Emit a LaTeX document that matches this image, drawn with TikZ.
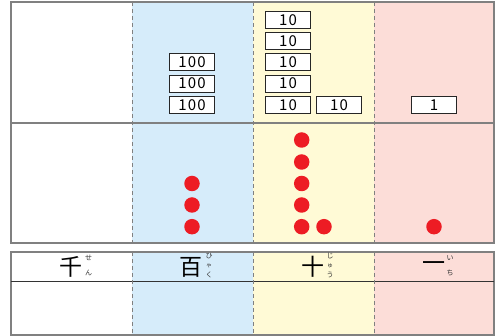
\documentclass[tikz,border=0pt]{standalone}
\usepackage{fontspec}
\newfontfamily\jp{Noto Sans CJK JP}
\newfontfamily\numfont[LetterSpace=8]{Noto Sans CJK JP}
\definecolor{cblue}{RGB}{214,236,250}
\definecolor{cyellow}{RGB}{255,250,214}
\definecolor{cpink}{RGB}{252,221,216}
\definecolor{cred}{RGB}{237,28,36}
\definecolor{cgray}{RGB}{128,128,128}
\begin{document}
\begin{tikzpicture}[x=1pt,y=-1pt,
  numbox/.style={draw=black!85,line width=0.9pt,fill=white,minimum width=45pt,minimum height=17pt,inner sep=0pt,font=\numfont\fontsize{15}{15}\selectfont},
  dot/.style={circle,fill=cred,minimum size=15.5pt,inner sep=0pt},
  frame/.style={draw=cgray,line width=1.1pt},
  divider/.style={draw=cgray,line width=1pt,dash pattern=on 4pt off 3pt},
  kanji/.style={font=\jp\fontsize{23}{23}\selectfont,inner sep=0pt},
  ruby/.style={font=\jp\fontsize{7}{7}\selectfont,inner sep=0pt,text=black!80},
  smallruby/.style={font=\jp\fontsize{6}{6}\selectfont,inner sep=0pt,text=black!80}]
\useasboundingbox (0,0) rectangle (496,336);
% fills
\fill[cblue] (132,2) rectangle (253,243);
\fill[cyellow] (253,2) rectangle (374,243);
\fill[cpink] (374,2) rectangle (494,243);
\fill[cblue] (132,252) rectangle (253,335);
\fill[cyellow] (253,252) rectangle (374,335);
\fill[cpink] (374,252) rectangle (494,335);
% frames
\draw[frame] (11,2) rectangle (494,243);
\draw[frame] (11,123) -- (494,123);
\draw[frame] (11,252) rectangle (494,335);
\draw[draw=black!80,line width=1pt] (11,282) -- (494,282);
\foreach \x in {132,253,374}{
  \draw[divider] (\x,2) -- (\x,243);
  \draw[divider] (\x,252) -- (\x,335);
}
% hundreds boxes
\node[numbox] (h1) at (192,62) {100};
\node[numbox] (h2) at (192,83.5) {100};
\node[numbox] (h3) at (192,104.8) {100};
% tens boxes
\node[numbox] (t1) at (288,20) {10};
\node[numbox] (t2) at (288,40.8) {10};
\node[numbox] (t3) at (288,62) {10};
\node[numbox] (t4) at (288,83.5) {10};
\node[numbox] (t5) at (288,104.8) {10};
\node[numbox] (t6) at (339,104.8) {10};
% ones box
\node[numbox] (o1) at (434,104.8) {1};
% dots
\node[dot] (hd1) at (192,183.5) {};
\node[dot] (hd2) at (192,205) {};
\node[dot] (hd3) at (192,226.7) {};
\node[dot] (td1) at (301.7,140) {};
\node[dot] (td2) at (301.7,162) {};
\node[dot] (td3) at (301.7,183.5) {};
\node[dot] (td4) at (301.7,205) {};
\node[dot] (td5) at (301.7,226.7) {};
\node[dot] (td6) at (324,226.7) {};
\node[dot] (od1) at (434,226.7) {};
% header
\node[kanji] (k1) at (71,267) {千};
\node[ruby] (r1a) at (88.5,258) {せ};
\node[ruby] (r1b) at (88.5,273) {ん};
\node[kanji] (k2) at (191,267) {百};
\node[ruby] (r2a) at (209,256) {ひ};
\node[smallruby] (r2b) at (209,265.5) {ゃ};
\node[ruby] (r2c) at (209,275) {く};
\node[kanji] (k3) at (313,267) {十};
\node[ruby] (r3a) at (330,256) {じ};
\node[smallruby] (r3b) at (330,265.5) {ゅ};
\node[ruby] (r3c) at (330,275) {う};
\node[kanji] (k4) at (434,267) {一};
\node[ruby] (r4a) at (450,258) {い};
\node[ruby] (r4b) at (450,273) {ち};
\end{tikzpicture}
\end{document}
